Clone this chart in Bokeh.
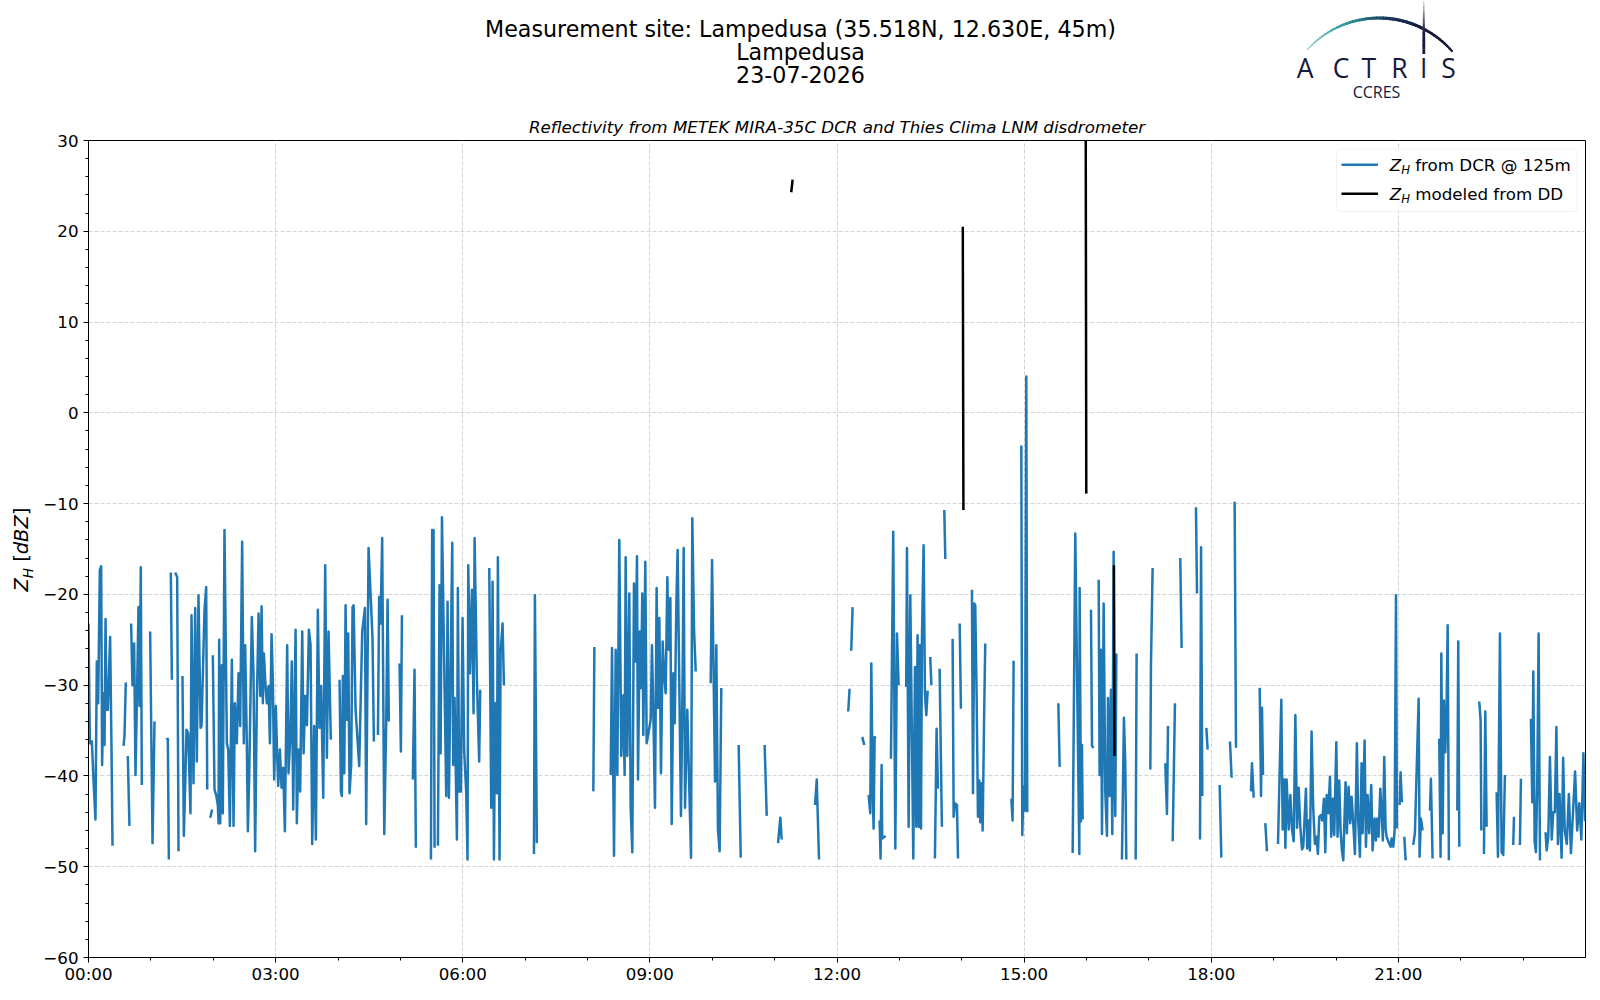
import math
from bokeh.plotting import figure
from bokeh.models import Range1d, FixedTicker, Label, BoxAnnotation, Title
from bokeh.layouts import column, row
from bokeh.embed import file_html
from bokeh.resources import INLINE

NAN = float("nan")

# ---------------- texts ----------------
TITLE_LINES = ["Measurement site: Lampedusa (35.518N, 12.630E, 45m)", "Lampedusa", "23-07-2026"]
SUBTITLE = "Reflectivity from METEK MIRA-35C DCR and Thies Clima LNM disdrometer"
LEGEND_LABELS = ["from DCR @ 125m", "modeled from DD"]
LOGO_LETTERS = ["A", "C", "T", "R", "I", "S"]
LOGO_SUB = "CCRES"

# ---------------- ticks ----------------
X_TICK_HOURS = [0, 3, 6, 9, 12, 15, 18, 21]
X_TICK_LABELS = ["00:00", "03:00", "06:00", "09:00", "12:00", "15:00", "18:00", "21:00"]
X_MINOR_HOURS = list(range(0, 24))
Y_TICKS = [-60, -50, -40, -30, -20, -10, 0, 10, 20, 30]
Y_MINOR = list(range(-60, 31, 2))

# ---------------- data: (minute of day, Z_H dBZ); None = gap ----------------
DCR_POINTS = [
    (0.0,-23.2),(1.3,-36.4),(3.2,-36.2),(4.8,-40.4),(6.7,-44.8),(8.0,-27.4),(9.3,-32.0),(10.9,-17.3),(12.2,-16.9),(13.1,-38.8),
    (14.4,-30.9),(15.4,-36.6),(16.4,-22.7),(17.3,-32.7),(18.6,-32.7),(20.8,-24.7),(22.1,-36.7),(23.1,-47.7), None,
    (33.7,-36.7),(34.6,-35.6),(35.9,-29.7), None,
    (37.8,-37.8),(39.4,-45.5), None,
    (41.0,-23.2),(42.3,-30.0),(43.9,-25.4),(45.2,-39.9),(46.5,-32.0),(48.1,-21.4),(49.1,-32.3),(50.3,-17.0),(51.3,-41.0), None,
    (59.3,-24.1),(61.6,-47.4),(63.5,-34.0), None,
    (74.7,-36.0),(76.3,-35.9),(77.3,-49.2), None,
    (79.2,-17.6),(80.2,-29.4), None,
    (83.4,-17.6),(85.3,-18.1),(86.6,-48.3), None,
    (90.4,-29.0),(91.7,-46.6),(93.0,-41.0),(94.3,-34.9),(95.9,-35.3),(98.1,-44.1),(99.1,-22.3),(101.0,-40.8),(102.6,-21.5),
    (104.2,-38.4),(105.8,-20.1),(107.8,-34.7),(108.7,-34.5),(111.6,-21.7),(113.2,-19.2),(114.2,-41.5), None,
    (117.1,-44.6),(119.0,-43.7), None,
    (119.6,-26.7),(121.2,-41.5),(122.8,-42.1),(124.4,-43.2),(125.1,-45.2),(125.7,-25.0),(126.7,-45.2),(128.3,-27.8),(129.2,-44.1),
    (130.8,-12.9),(133.1,-36.4),(134.4,-37.1),(136.0,-45.5),(137.9,-27.2),(139.5,-45.5),(140.8,-32.0),(142.7,-36.4),(144.3,-28.7),
    (145.9,-34.5),(147.8,-14.2),(149.4,-36.4),(150.7,-25.6),(152.3,-36.4),(153.3,-46.1),(154.6,-39.9),(157.1,-22.5),(158.7,-28.7),
    (160.3,-48.3),(161.9,-32.0),(163.6,-22.1),(165.2,-31.2),(166.5,-21.3),(167.7,-32.0),(168.7,-26.5),(170.3,-30.1),(171.6,-32.0),
    (173.2,-30.1),(174.5,-36.4),(176.1,-24.4),(177.3,-29.4),(178.6,-40.4),(180.2,-32.3),(181.5,-37.8),(182.5,-41.1),(184.1,-37.1),
    (185.7,-41.3),(187.3,-39.1),(188.9,-46.1),(191.1,-25.6),(192.4,-39.7),(194.0,-36.0),(195.6,-27.4),(196.9,-43.7),(199.2,-23.9),
    (200.4,-45.2),(202.0,-37.1),(203.6,-41.7),(205.6,-24.1),(206.9,-37.5),(208.5,-31.2),(210.1,-34.4),(212.0,-23.9),(213.6,-25.6),
    (215.2,-47.5),(217.1,-34.5),(218.7,-47.0),(220.6,-21.7),(222.2,-34.7),(223.8,-30.1),(225.8,-42.4),(227.7,-16.8),(229.3,-38.0),
    (230.9,-24.1),(233.1,-36.0), None,
    (241.5,-29.4),(242.8,-41.7),(243.7,-42.2),(244.7,-29.0),(246.0,-39.7),(247.3,-21.2),(248.5,-33.8),(249.8,-24.3),(251.1,-41.9),
    (252.7,-38.8),(254.0,-21.4),(255.0,-21.2),(256.9,-32.7),(260.4,-38.9),(263.3,-24.1),(265.9,-21.5),(267.1,-45.3),(269.4,-14.9),
    (273.2,-24.8),(274.5,-36.2), None,
    (278.4,-35.5),(279.6,-20.3),(280.9,-23.2),(282.5,-13.8),(284.5,-46.4),(286.4,-34.0),(287.7,-20.6),(288.9,-34.0), None,
    (299.2,-27.6),(300.5,-37.3),(301.5,-22.3), None,
    (312.0,-40.4),(313.6,-28.3),(314.9,-47.9), None,
    (329.4,-49.2),(330.6,-12.9),(331.9,-12.9),(332.9,-47.9), None,
    (336.1,-47.7),(337.7,-19.0),(338.7,-37.5),(340.0,-11.5),(344.1,-42.2),(345.4,-20.8),(346.7,-42.4),(349.9,-14.3),(350.8,-38.8),
    (352.1,-31.4),(354.4,-47.0),(355.3,-19.3),(356.6,-41.7),(358.2,-41.7),(359.8,-22.6),(361.4,-37.3),(363.3,-41.7),(364.6,-49.2),
    (365.3,-16.8),(366.9,-28.7),(368.8,-19.5),(370.4,-33.1),(371.4,-13.8),(373.6,-29.4),(375.8,-38.4),(376.8,-30.5), None,
    (385.5,-17.1),(387.4,-43.5),(388.7,-18.6),(390.0,-49.2),(391.2,-32.0),(392.9,-41.9),(393.8,-15.9),(395.4,-49.2),(396.4,-26.5),
    (398.3,-23.2),(399.6,-30.0), None,
    (428.5,-48.6),(429.4,-20.1),(431.3,-47.4), None,
    (485.6,-41.7),(486.6,-25.8), None,
    (502.3,-39.9),(503.6,-25.9),(505.5,-48.8),(507.1,-26.1),(508.7,-39.9),(510.6,-14.0),(512.5,-37.8),(514.5,-31.1),(515.7,-39.9),
    (516.7,-15.9),(518.3,-37.8),(520.2,-19.9),(521.5,-43.3),(523.1,-48.4),(524.7,-18.8),(526.3,-27.4),(527.6,-15.8),(528.6,-40.4),
    (530.2,-24.1),(531.5,-30.3),(532.7,-19.9),(533.7,-35.5),(535.6,-16.4),(536.9,-36.4),(540.8,-33.8),(542.0,-25.6),(543.3,-32.7),
    (544.9,-43.5),(546.5,-19.3),(547.8,-32.5),(549.1,-22.6),(550.7,-39.7),(552.3,-25.2),(553.9,-29.2),(555.2,-30.9),(556.8,-18.1),
    (558.1,-26.1),(559.7,-20.4),(561.0,-45.3),(562.6,-28.7),(563.9,-34.2),(565.5,-20.8),(566.7,-15.1),(569.9,-44.4),(571.5,-29.2),
    (572.5,-14.9),(573.8,-43.5),(576.0,-32.7),(579.6,-49.0),(580.8,-11.6),(582.5,-23.9),(584.1,-28.5), None,
    (598.5,-29.8),(599.8,-16.2),(601.1,-27.0),(602.7,-40.6),(603.9,-25.6),(605.5,-45.9),(607.1,-48.3),(608.7,-30.3), None,
    (625.4,-36.6),(627.4,-49.0), None,
    (650.4,-36.6),(652.4,-44.4), None,
    (663.3,-47.4),(665.5,-44.6),(666.8,-47.0), None,
    (698.9,-43.2),(700.5,-40.4),(702.7,-49.2), None,
    (730.8,-32.9),(732.1,-30.4), None,
    (733.7,-26.2),(735.0,-21.4), None,
    (744.3,-35.7),(746.2,-36.6), None,
    (750.4,-42.1),(752.0,-44.1),(753.0,-27.6),(754.2,-40.8),(755.2,-45.8),(756.2,-35.7),(757.1,-35.9), None,
    (761.0,-44.9),(761.9,-49.1),(762.9,-38.8),(763.5,-46.9),(766.8,-46.6), None,
    (771.9,-38.1),(774.1,-13.1),(776.1,-48.0),(777.7,-24.3),(779.3,-30.0), None,
    (786.6,-30.2),(787.3,-14.9),(788.9,-45.6),(790.5,-20.1),(793.4,-49.1),(795.0,-28.0),(796.3,-45.6),(797.5,-24.5),(798.8,-45.6),
    (799.8,-25.6),(800.8,-45.8),(801.7,-24.9),(803.3,-14.6),(804.6,-30.9),(805.9,-33.3),(807.2,-30.6), None,
    (809.7,-26.9),(810.8,-30.0), None,
    (814.2,-49.1),(815.8,-34.8),(817.1,-41.4), None,
    (818.7,-28.2),(820.9,-45.6), None,
    (823.2,-10.7),(824.2,-16.1), None,
    (831.2,-24.9),(832.2,-44.5),(833.5,-43.0),(835.4,-43.2),(836.4,-49.1), None,
    (838.0,-23.2),(839.2,-32.6), None,
    (849.8,-19.5),(850.8,-41.9),(852.1,-21.0),(853.0,-21.2),(854.3,-31.1),(855.6,-44.5),(856.9,-40.5),(857.8,-45.1),(859.1,-40.8),
    (860.1,-46.0),(861.4,-34.4),(862.6,-25.4), None,
    (887.7,-42.5),(888.9,-44.9),(889.9,-27.3), None,
    (897.3,-3.6),(898.2,-46.5),(899.5,-41.2),(900.8,-43.8),(902.1,4.0),(903.0,-44.0), None,
    (932.9,-32.0),(934.2,-39.0), None,
    (946.7,-48.5),(949.2,-13.3),(953.1,-48.6),(953.4,-19.3),(954.7,-45.0),(955.6,-36.6),(956.3,-44.8), None,
    (964.3,-21.7),(965.3,-36.7),(966.9,-36.9), None,
    (971.7,-18.4),(972.6,-39.9),(973.9,-26.1),(974.9,-46.4),(976.5,-21.0),(978.1,-41.9),(979.7,-46.6),(980.7,-31.4),(982.3,-42.2),
    (983.5,-30.5),(984.8,-46.4),(986.1,-15.3),(986.7,-37.7),(987.7,-44.4),(988.7,-26.5), None,
    (994.1,-49.2),(996.0,-33.6),(997.3,-38.6),(998.3,-49.2), None,
    (1007.3,-49.2),(1008.2,-26.5), None,
    (1021.4,-39.3),(1022.0,-27.8),(1023.6,-17.1), None,
    (1035.8,-38.6),(1037.4,-44.2),(1038.4,-34.5), None,
    (1042.9,-47.2),(1045.1,-32.0), None,
    (1050.2,-16.0),(1051.5,-25.9), None,
    (1065.3,-10.4),(1066.3,-19.9), None,
    (1069.2,-47.0),(1070.2,-14.8),(1071.4,-42.2), None,
    (1075.3,-34.7),(1076.5,-37.1), None,
    (1088.1,-41.0),(1089.7,-49.0), None,
    (1098.0,-36.2),(1099.6,-40.2), None,
    (1102.5,-9.8),(1103.8,-36.9), None,
    (1118.2,-41.7),(1119.2,-38.6),(1120.8,-42.4), None,
    (1126.6,-30.3),(1127.9,-42.2),(1128.8,-32.5),(1129.8,-39.9), None,
    (1132.0,-45.2),(1133.6,-48.3), None,
    (1144.2,-47.5),(1147.4,-31.6),(1148.7,-45.9),(1150.3,-40.4),(1151.3,-47.9),(1152.5,-40.4),(1154.5,-45.9),(1156.1,-42.1),
    (1157.7,-45.9),(1159.3,-47.2),(1160.9,-33.3),(1162.5,-45.7),(1164.1,-41.3),(1165.7,-45.7),(1167.3,-48.1),(1168.5,-47.8),
    (1171.1,-41.4),(1172.3,-48.0),(1174.0,-44.9),(1174.9,-48.2),(1176.5,-35.1),(1178.1,-43.6),(1179.7,-47.5),(1181.3,-46.7),
    (1182.6,-48.6),(1183.9,-44.5),(1185.5,-44.3),(1186.8,-44.9),(1188.4,-42.5),(1189.7,-48.4),(1191.0,-42.1),(1192.6,-44.1),
    (1194.2,-40.1),(1195.4,-46.7),(1197.0,-42.5),(1198.3,-46.5),(1200.3,-36.3),(1201.5,-46.7),(1203.1,-40.5),(1204.4,-46.0),
    (1205.7,-48.2),(1207.0,-49.3),(1209.2,-40.7),(1210.5,-46.3),(1212.1,-41.2),(1213.7,-45.2),(1215.0,-42.3),(1216.6,-45.2),
    (1218.2,-48.6),(1220.1,-36.4),(1221.4,-44.9),(1223.0,-48.9),(1224.6,-38.6),(1225.6,-46.3),(1227.5,-36.1),(1228.8,-47.8),
    (1230.4,-42.1),(1232.0,-46.3),(1233.9,-41.0),(1235.2,-48.2),(1237.1,-44.7),(1238.4,-47.1),(1239.7,-44.7),(1241.0,-46.7),
    (1242.6,-41.4),(1243.9,-44.1),(1245.1,-47.1),(1246.4,-37.9),(1247.7,-45.8),(1248.7,-46.7),(1250.6,-47.3),(1252.5,-47.8),
    (1253.5,-46.9),(1255.1,-47.8),(1256.4,-46.0),(1257.7,-20.1),(1258.6,-45.8), None,
    (1261.2,-43.2),(1262.1,-39.6),(1263.4,-42.9), None,
    (1265.7,-46.7),(1267.0,-49.3), None,
    (1274.3,-47.6),(1275.9,-46.3),(1279.5,-31.5),(1280.4,-48.9),(1281.7,-44.7),(1283.3,-46.0), None,
    (1290.4,-43.8),(1291.3,-40.3),(1292.9,-49.1), None,
    (1299.3,-35.9),(1300.6,-48.9),(1301.3,-26.5),(1302.6,-46.3),(1303.8,-31.7),(1305.1,-37.4),(1306.4,-32.4),(1307.4,-23.4),
    (1308.6,-49.3), None,
    (1316.7,-43.8),(1317.6,-25.2),(1318.6,-47.8), None,
    (1337.8,-31.8),(1339.1,-33.9),(1339.8,-46.0), None,
    (1342.3,-48.6),(1343.6,-32.9),(1344.9,-45.6), None,
    (1354.5,-41.8),(1355.8,-48.9),(1357.7,-24.3),(1359.3,-48.4),(1360.9,-48.7),(1362.5,-39.9), None,
    (1370.5,-47.6),(1371.2,-44.5), None,
    (1376.9,-47.6),(1377.9,-40.3), None,
    (1387.5,-33.7),(1388.8,-42.9),(1389.8,-28.5),(1391.1,-47.3),(1392.3,-48.4),(1393.6,-40.8),(1394.9,-24.3),(1396.2,-49.3), None,
    (1401.6,-46.2),(1402.6,-48.2),(1404.2,-46.7),(1405.8,-37.9),(1407.5,-47.0),(1409.0,-44.0),(1410.5,-44.0),(1412.0,-34.6),
    (1413.5,-47.5),(1415.0,-42.0),(1417.0,-49.0),(1418.5,-38.0),(1420.0,-46.0),(1422.0,-47.5),(1424.0,-42.0),(1426.0,-48.5),
    (1428.0,-44.0),(1430.0,-39.5),(1432.0,-46.0),(1434.0,-43.0),(1436.0,-47.0),(1438.0,-37.5),(1439.5,-45.0),
]

DD_POINTS = [
    (676.0, 24.3), (677.3, 25.7), None,
    (841.0, 20.5), (841.6, -10.7), None,
    (959.2, 35.0), (959.8, -8.9), None,
    (986.4, -16.8), (986.9, -37.8),
]


def split(points):
    t = [p[0] / 60.0 if p is not None else NAN for p in points]
    z = [p[1] if p is not None else NAN for p in points]
    return t, z


dcr_t, dcr_z = split(DCR_POINTS)
dd_t, dd_z = split(DD_POINTS)

# ---------------- layout constants (page pixels) ----------------
PAGE_W, PAGE_H = 1600, 1000
YLAB_W = 36
HEADER_H = 104
B_LEFT, B_RIGHT, B_TOP, B_BOTTOM = 52, 15, 36, 42
FRAME_LEFT = YLAB_W + B_LEFT
FRAME_W, FRAME_H = PAGE_W - FRAME_LEFT - B_RIGHT, 817
FRAME_TOP = HEADER_H + B_TOP
X0, X1 = 0, 24
Y0, Y1 = -60, 30
BASE_SHIFT = 0.4   # alphabetic-baseline correction (fraction of font size)

BLUE = "#1f77b4"
FONT = "DejaVu Sans"
NAVY = "#151a3d"
LINE_W = 2.5


def hx(px):
    return X0 + (px - FRAME_LEFT) / FRAME_W * (X1 - X0)


def vy(py):
    return Y1 - (py - FRAME_TOP) / FRAME_H * (Y1 - Y0)


def fpx(fs):
    return float(fs.replace("px", ""))


# ---------------- main plot ----------------
p = figure(frame_width=FRAME_W, frame_height=FRAME_H,
           x_range=Range1d(X0, X1), y_range=Range1d(Y0, Y1),
           output_backend="svg", toolbar_location=None,
           min_border_left=B_LEFT, min_border_right=B_RIGHT,
           min_border_top=B_TOP, min_border_bottom=B_BOTTOM)
p.background_fill_color = "white"
p.border_fill_color = "white"
p.outline_line_color = "black"
p.outline_line_width = 1

p.title = Title(text=SUBTITLE, align="center", text_font=FONT, text_font_size="16.7px",
                text_font_style="italic", text_color="black", standoff=8)

p.line(dcr_t, dcr_z, line_color=BLUE, line_width=LINE_W, line_join="round")
p.line(dd_t, dd_z, line_color="black", line_width=LINE_W, line_join="round")

p.xaxis.ticker = FixedTicker(ticks=X_TICK_HOURS, minor_ticks=X_MINOR_HOURS)
p.xaxis.major_label_overrides = {h: l for h, l in zip(X_TICK_HOURS, X_TICK_LABELS)}
p.yaxis.ticker = FixedTicker(ticks=Y_TICKS, minor_ticks=Y_MINOR)
p.yaxis.major_label_overrides = {v: (str(v).replace("-", "\u2212")) for v in Y_TICKS}

for ax in (p.xaxis[0], p.yaxis[0]):
    ax.axis_line_color = "black"
    ax.major_tick_line_color = "black"
    ax.minor_tick_line_color = "black"
    ax.major_tick_in = 0
    ax.major_tick_out = 5
    ax.minor_tick_in = 0
    ax.minor_tick_out = 3
    ax.major_label_text_font = FONT
    ax.major_label_text_font_size = "16.7px"
    ax.major_label_text_color = "black"
p.xaxis.major_label_standoff = 1
p.yaxis.major_label_standoff = 5

p.xgrid.grid_line_color = "#d3d3d3"
p.ygrid.grid_line_color = "#d3d3d3"
p.xgrid.grid_line_dash = "4 2"
p.ygrid.grid_line_dash = "4 2"
p.xgrid.grid_line_width = 1
p.ygrid.grid_line_width = 1

# legend (manual, to allow the subscript)
p.add_layout(BoxAnnotation(left=hx(1336), right=hx(1576.5), top=vy(148.5), bottom=vy(211),
                           fill_color="white", fill_alpha=0.8, line_color="#cccccc",
                           line_width=1, border_radius=4))
LEG_ROWS = [(164.3, 170.7, BLUE), (193.3, 200.0, "black")]
for (ly, base, col), lab in zip(LEG_ROWS, LEGEND_LABELS):
    p.add_layout(BoxAnnotation(left=hx(1341), right=hx(1377.5), top=vy(ly - LINE_W / 2), bottom=vy(ly + LINE_W / 2),
                               fill_color=col, fill_alpha=1.0, line_color=None))
    for txt, px, py, fs, st in [("Z", 1389.3, base, "16.7px", "italic"),
                                ("H", 1400.7, base + 3.6, "11.7px", "italic"),
                                (lab, 1414.7, base, "16.7px", "normal")]:
        p.add_layout(Label(x=hx(px), y=vy(py - BASE_SHIFT * fpx(fs)), text=txt, text_font=FONT,
                           text_font_size=fs, text_font_style=st, text_color="black",
                           text_baseline="alphabetic"))

# ---------------- header (titles + logo); frame aligned with the main frame ----------------
hdr = figure(frame_width=FRAME_W, frame_height=HEADER_H,
             x_range=Range1d(FRAME_LEFT, FRAME_LEFT + FRAME_W), y_range=Range1d(HEADER_H, 0),
             output_backend="svg", toolbar_location=None,
             min_border_left=B_LEFT, min_border_right=B_RIGHT, min_border_top=0, min_border_bottom=0,
             x_axis_type=None, y_axis_type=None)
hdr.grid.visible = False
hdr.outline_line_color = None
hdr.background_fill_color = "white"
hdr.border_fill_color = "white"

for line, base in zip(TITLE_LINES, [37.5, 60.0, 82.5]):
    hdr.add_layout(Label(x=800, y=base - BASE_SHIFT * 22.2, text=line, text_font=FONT, text_font_size="22.2px",
                         text_color="black", text_align="center", text_baseline="alphabetic"))

# logo arc with colour gradient
ARC_CX, ARC_CY, ARC_R = 1378.5, 114.4, 96.9
TH0, TH1 = math.radians(137.8), math.radians(41.5)
N = 48
STOPS = [(0.0, (140, 205, 205), 1.0), (0.3, (45, 150, 155), 2.6), (0.55, (30, 60, 95), 3.2),
         (0.75, (21, 26, 61), 3.0), (1.0, (21, 26, 61), 2.2)]


def interp(f):
    for (f0, c0, w0), (f1, c1, w1) in zip(STOPS[:-1], STOPS[1:]):
        if f0 <= f <= f1:
            u = (f - f0) / (f1 - f0)
            c = tuple(int(round(a + (b - a) * u)) for a, b in zip(c0, c1))
            return "#%02x%02x%02x" % c, w0 + (w1 - w0) * u
    return NAVY, 2.2


axs, ays, acol, awid = [], [], [], []
for i in range(N):
    a0 = TH0 + (TH1 - TH0) * i / N
    a1 = TH0 + (TH1 - TH0) * (i + 1.15) / N
    axs.append([ARC_CX + ARC_R * math.cos(a0), ARC_CX + ARC_R * math.cos(a1)])
    ays.append([ARC_CY - ARC_R * math.sin(a0), ARC_CY - ARC_R * math.sin(a1)])
    c, w = interp((i + 0.5) / N)
    acol.append(c)
    awid.append(w)
hdr.multi_line(axs, ays, line_color=acol, line_width=awid, line_cap="round")

# vertical stroke of the logo
VX = 1423.3
vxs, vys, vcol, vwid = [], [], [], []
VN = 12
for i in range(VN):
    y0 = 1.0 + (53.0 - 1.0) * i / VN
    y1 = 1.0 + (53.0 - 1.0) * (i + 1.1) / VN
    f = (i + 0.5) / VN
    g = int(round(200 - (200 - 21) * min(1.0, f * 1.6)))
    col = "#%02x%02x%02x" % (max(21, g), max(26, g), max(61, min(255, g + 20)))
    vxs.append([VX, VX])
    vys.append([y0, y1])
    vcol.append(col)
    vwid.append(1.0 + 1.8 * min(1.0, f * 1.5))
hdr.multi_line(vxs, vys, line_color=vcol, line_width=vwid)

LETTER_X = [1304.7, 1340.7, 1368.3, 1399.0, 1423.3, 1448.0]
for ch, lx in zip(LOGO_LETTERS, LETTER_X):
    hdr.add_layout(Label(x=lx, y=77.7 - BASE_SHIFT * 26.5, text=ch, text_font="Open Sans", text_font_size="26.5px",
                         text_color=NAVY, text_align="center", text_baseline="alphabetic"))
hdr.add_layout(Label(x=1376.0, y=98.3 - BASE_SHIFT * 16, text=LOGO_SUB, text_font="Open Sans",
                     text_font_size="16px", text_color=NAVY, text_align="center", text_baseline="alphabetic"))

# ---------------- y-axis label strip:  Z_H [dBZ]  (rotated, manual sub-script) ----------------
ylf = figure(frame_width=YLAB_W, frame_height=PAGE_H, x_range=Range1d(0, YLAB_W), y_range=Range1d(PAGE_H, 0),
             output_backend="svg", toolbar_location=None, min_border=0,
             x_axis_type=None, y_axis_type=None)
ylf.grid.visible = False
ylf.outline_line_color = None
ylf.background_fill_color = "white"
ylf.border_fill_color = "white"

YL_BASE = 28.5
ylab = [
    ("Z", 591.0, 0.0, "19.4px", "italic"),
    ("H", 577.7, 4.2, "13.6px", "italic"),
    ("[", 561.3, 0.0, "19.4px", "normal"),
    ("dBZ", 553.7, 0.0, "19.4px", "italic"),
    ("]", 514.8, 0.0, "19.4px", "normal"),
]
for txt, py, dx, fs, st in ylab:
    ylf.add_layout(Label(x=YL_BASE + dx - BASE_SHIFT * fpx(fs), y=py, text=txt, angle=math.pi / 2,
                         text_font=FONT, text_font_size=fs, text_font_style=st,
                         text_color="black", text_align="left", text_baseline="alphabetic"))

layout = row(ylf, column(hdr, p, spacing=0), spacing=0)
open("out.html", "w").write(file_html(layout, INLINE))
